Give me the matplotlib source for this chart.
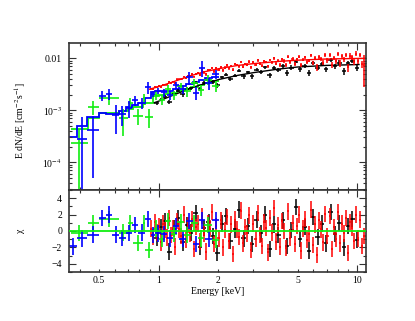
# -*- coding: utf-8 -*-
import numpy as np
import matplotlib
matplotlib.use("Agg")
import matplotlib.pyplot as plt
from matplotlib.ticker import FixedLocator, FixedFormatter, MultipleLocator, LogLocator, NullFormatter

# ==================== data ====================
# flux values in units of 1e-3 cm^-2 s^-1

# black data set (1 - 10 keV)
black_edges = [0.95, 1.0, 1.050, 1.104, 1.162, 1.222, 1.285, 1.352, 1.422, 1.495, 1.573,
               1.654, 1.740, 1.830, 1.925, 2.025, 2.130, 2.240, 2.356, 2.478, 2.607,
               2.742, 2.884, 3.033, 3.190, 3.356, 3.530, 3.712, 3.905, 4.107, 4.320,
               4.544, 4.779, 5.027, 5.287, 5.561, 5.850, 6.153, 6.471, 6.807, 7.160,
               7.531, 7.921, 8.331, 8.763, 9.217, 9.694, 10.20]
black_flux = [1.36, 1.61, 1.84, 1.46, 2.03, 2.39, 2.02, 2.61, 2.64, 3.38,
              2.59, 3.35, 3.75, 3.47, 3.02, 4.32, 4.83, 3.98, 4.65, 5.74,
              4.52, 5.35, 4.49, 6.08, 5.40, 6.73, 4.69, 6.43, 5.92, 7.04,
              5.25, 6.62, 8.64, 6.12, 7.25, 5.32, 8.25, 6.60, 7.79, 6.16,
              9.31, 7.00, 8.29, 5.66, 8.04, 8.91, 6.60]
black_err = [0.116, 0.124, 0.134, 0.146, 0.158, 0.17, 0.182, 0.198, 0.214, 0.23,
             0.244, 0.26, 0.276, 0.292, 0.308, 0.322, 0.338, 0.352, 0.366, 0.38,
             0.443, 0.457, 0.473, 0.486, 0.50, 0.513, 0.527, 0.54, 0.558, 0.567,
             0.64, 0.655, 0.67, 0.68, 0.69, 0.70, 0.705, 0.71, 0.715, 0.725,
             0.876, 0.882, 0.888, 0.894, 0.90, 0.906, 0.912]
black_chi = [-0.8, 0.5, 1.2, -2.5, 0.3, 1.6, -1.4, 0.7, -0.2, 2.2,
             -1.9, 0.4, 1.1, -0.6, -2.7, 0.9, 1.8, -1.2, 0.2, 2.6,
             -0.9, 0.6, -1.6, 1.4, -0.3, 2.0, -2.2, 0.8, -0.5, 1.3,
             -1.8, 0.1, 2.9, -1.0, 0.5, -2.4, 1.7, -0.7, 0.9, -1.5,
             2.3, -0.4, 1.0, -2.0, 0.6, 1.5, -1.1]
black_model_e = [0.95, 1.0, 1.2, 1.5, 2.0, 2.5, 3.0, 4.0, 5.0, 7.0, 10.2]
black_model_f = [1.40, 1.50, 2.0, 2.8, 3.9, 4.7, 5.3, 6.2, 6.8, 7.3, 7.6]

# red data set (0.9 - 11 keV)
red_edges = [0.900, 0.9217, 0.9440, 0.9667, 0.9901, 1.0140, 1.0384, 1.0635, 1.0891, 1.1154,
             1.1423, 1.1699, 1.1981, 1.2270, 1.2566, 1.2869, 1.3180, 1.3498, 1.3823, 1.4157,
             1.4498, 1.4848, 1.5206, 1.5573, 1.5949, 1.6333, 1.6727, 1.7131, 1.7544, 1.7968,
             1.8401, 1.8845, 1.9300, 1.9765, 2.0242, 2.0731, 2.1231, 2.1743, 2.2267, 2.2805,
             2.3355, 2.3918, 2.4495, 2.5086, 2.5691, 2.6311, 2.6946, 2.7596, 2.8262, 2.8944,
             2.9642, 3.0357, 3.1089, 3.1839, 3.2608, 3.3394, 3.4200, 3.5025, 3.5870, 3.6735,
             3.7622, 3.8529, 3.9459, 4.0411, 4.1386, 4.2384, 4.3407, 4.4454, 4.5526, 4.6625,
             4.7750, 4.8902, 5.0082, 5.1290, 5.2527, 5.3794, 5.5092, 5.6421, 5.7782, 5.9176,
             6.0604, 6.2066, 6.3564, 6.5097, 6.6668, 6.8276, 6.9924, 7.1611, 7.3338, 7.5108,
             7.6920, 7.8775, 8.0676, 8.2623, 8.4616, 8.6657, 8.8748, 9.0889, 9.3082, 9.5328,
             9.7628, 9.9983, 10.240, 10.487, 10.740, 10.999]
red_flux = [2.61, 2.59, 2.81, 2.76, 2.92, 2.80, 3.13, 3.13, 3.12, 3.50,
            3.36, 3.58, 3.40, 3.93, 3.93, 3.94, 4.44, 4.13, 4.54, 4.52,
            4.95, 4.46, 5.08, 5.32, 4.88, 5.83, 5.37, 4.90, 6.01, 5.93,
            6.65, 5.59, 6.38, 6.02, 6.82, 5.85, 6.64, 7.29, 6.42, 7.21,
            6.05, 7.65, 7.33, 7.04, 8.55, 6.83, 7.82, 7.53, 8.62, 6.74,
            8.33, 7.48, 9.08, 7.84, 7.26, 8.74, 8.46, 7.02, 9.20, 8.35,
            9.95, 7.93, 9.02, 7.39, 9.60, 8.81, 7.37, 10.63, 8.40, 9.75,
            7.92, 9.58, 10.67, 7.46, 9.48, 10.40, 8.51, 9.06, 11.34, 8.14,
            10.22, 6.74, 10.76, 9.75, 8.26, 11.65, 9.13, 11.47, 7.59, 10.24,
            8.78, 12.03, 8.04, 10.88, 9.49, 11.75, 6.68, 11.21, 10.40, 8.51,
            12.35, 8.90, 11.68, 7.84, 7.30]
red_err = [0.090, 0.093, 0.095, 0.097, 0.100, 0.103, 0.106, 0.109, 0.112, 0.116,
           0.120, 0.124, 0.127, 0.132, 0.137, 0.141, 0.145, 0.150, 0.155, 0.160,
           0.165, 0.169, 0.248, 0.255, 0.261, 0.268, 0.274, 0.280, 0.286, 0.292,
           0.298, 0.304, 0.310, 0.315, 0.320, 0.325, 0.331, 0.336, 0.342, 0.347,
           0.352, 0.358, 0.363, 0.441, 0.446, 0.451, 0.455, 0.460, 0.464, 0.469,
           0.474, 0.478, 0.481, 0.485, 0.488, 0.492, 0.496, 0.499, 0.503, 0.507,
           0.511, 0.516, 0.520, 0.697, 0.701, 0.705, 0.709, 0.714, 0.718, 0.722,
           0.726, 0.731, 0.736, 0.738, 0.741, 0.743, 0.746, 0.749, 0.751, 0.754,
           0.946, 0.949, 0.952, 0.956, 0.960, 0.963, 0.971, 0.972, 0.973, 0.975,
           0.976, 0.978, 1.176, 1.178, 1.181, 1.183, 1.186, 1.188, 1.190, 1.193,
           1.195, 1.198, 1.20, 1.20, 4.5]
red_chi = [0.3, -0.7, 1.1, -0.2, 0.6, -1.4, 0.9, 0.1, -0.8, 1.6,
           -0.5, 0.4, -1.9, 1.2, 0.2, -0.6, 2.0, -1.1, 0.7, -0.3,
           1.5, -2.2, 0.5, 0.9, -1.3, 1.8, -0.4, -2.5, 1.0, 0.3,
           2.3, -1.6, 0.6, -0.9, 1.3, -2.0, 0.1, 1.7, -1.2, 0.8,
           -2.8, 1.4, 0.2, -0.7, 2.5, -1.5, 0.5, -0.3, 1.9, -2.3,
           0.9, -1.0, 2.2, -0.5, -1.8, 1.1, 0.4, -2.6, 1.6, -0.2,
           2.8, -1.3, 0.7, -1.9, 1.2, 0.0, -2.1, 2.4, -0.8, 1.0,
           -1.6, 0.6, 2.0, -2.4, 0.3, 1.5, -1.1, -0.4, 2.6, -1.7,
           0.8, -2.9, 1.3, 0.2, -1.4, 2.1, -0.6, 1.8, -2.2, 0.5,
           -1.0, 2.3, -1.5, 0.9, -0.3, 1.6, -2.7, 1.1, 0.4, -1.2,
           2.0, -0.9, 1.4, -1.8, -0.6]
red_model_e = [0.9, 1.0, 1.2, 1.44, 1.7, 2.0, 2.5, 3.0, 4.0, 5.0, 7.0, 11.0]
red_model_f = [2.55, 2.85, 3.6, 4.6, 5.5, 6.3, 7.3, 7.9, 8.7, 9.2, 9.7, 10.0]

# green data set (0.36 - 2 keV)
green_edges = [0.36, 0.44, 0.50, 0.63, 0.70, 0.74, 0.83, 0.85, 0.94, 1.00,
               1.07, 1.15, 1.24, 1.34, 1.45, 1.57, 1.70, 1.85, 2.02]
green_flux = [0.23, 1.17, 1.7, 0.70, 1.4, 0.79, 1.7, 0.75, 2.0, 1.6,
              2.6, 2.0, 2.9, 2.3, 3.4, 2.5, 3.9, 2.9]
green_err = [0.20, 0.35, 0.45, 0.38, 0.35, 0.28, 0.40, 0.30, 0.40, 0.35,
             0.50, 0.40, 0.50, 0.50, 0.60, 0.60, 0.80, 0.70]
green_chi = [-0.24, 0.97, 1.45, -0.2, 1.0, -1.45, 1.0, -2.3, 0.3, -1.0,
             1.2, -0.4, 1.1, -0.5, 1.0, -0.9, 0.7, -1.1]
green_model = [0.44, 0.70, 0.88, 0.95, 1.05, 1.15, 1.3, 1.4, 1.9, 2.0,
               2.05, 2.15, 2.35, 2.55, 2.8, 3.05, 3.35, 3.7]

# blue data set (0.35 - 2 keV)
blue_edges = [0.353, 0.388, 0.435, 0.500, 0.543, 0.582, 0.631, 0.684, 0.734, 0.787,
              0.853, 0.915, 0.96, 1.03, 1.10, 1.18, 1.27, 1.37, 1.48, 1.60,
              1.72, 1.86, 2.02]
blue_flux = [0.01, 0.28, 0.42, 1.9, 2.1, 0.80, 0.85, 1.1, 1.55, 1.4,
             2.8, 2.1, 2.4, 2.2, 2.0, 3.0, 2.6, 4.3, 2.15, 6.5,
             3.3, 5.0]
blue_err = [0.015, 0.47, 0.37, 0.40, 0.50, 0.45, 0.35, 0.40, 0.35, 0.35,
            0.70, 0.30, 0.30, 0.40, 0.40, 0.50, 0.50, 1.2, 0.60, 2.2,
            0.80, 1.0]
blue_chi = [-1.87, -0.9, -0.45, 1.6, 2.0, -0.45, -0.85, -0.24, 0.76, -0.2,
            1.5, -0.5, -0.3, -0.4, -0.9, 0.6, -1.0, 1.2, -1.6, 1.3,
            -1.0, 1.3]
blue_model = [0.31, 0.50, 0.75, 0.90, 0.86, 0.86, 0.98, 1.15, 1.25, 1.4,
              1.7, 2.25, 2.3, 2.3, 2.35, 2.6, 2.9, 3.2, 3.5, 3.8,
              4.1, 4.4]

flux_unit = 1e-3

# axis ticks
x_major = [1, 10]
x_major_labels = ['1', '10']
x_minor = [0.4, 0.5, 0.6, 0.7, 0.8, 0.9, 2, 3, 4, 5, 6, 7, 8, 9]
x_minor_labels = {0.5: '0.5', 2: '2', 5: '5'}
y_major = [1e-4, 1e-3, 1e-2]
y_major_labels = [r'10$^{-4}$', r'10$^{-3}$', '0.01']

# ==================== style ====================
plt.rcParams.update({
    "font.family": "serif",
    "font.serif": ["Liberation Serif", "DejaVu Serif"],
    "mathtext.fontset": "stix",
    "font.size": 7,
    "axes.linewidth": 1.2,
    "axes.edgecolor": "#333333",
    "xtick.direction": "in",
    "ytick.direction": "in",
    "xtick.top": True,
    "ytick.right": True,
    "xtick.major.size": 5,
    "ytick.major.size": 5,
    "xtick.minor.size": 2.5,
    "ytick.minor.size": 2.5,
    "xtick.major.width": 0.8,
    "ytick.major.width": 0.8,
    "xtick.minor.width": 0.8,
    "ytick.minor.width": 0.8,
    "xtick.color": "#333333",
    "ytick.color": "#333333",
    "xtick.labelcolor": "black",
    "ytick.labelcolor": "black",
})

W, H = 415, 321
fig = plt.figure(figsize=(W / 100, H / 100), dpi=100)
left, right = 69, 366
ax1 = fig.add_axes([left / W, 1 - 190 / H, (right - left) / W, (190 - 43) / H])
ax2 = fig.add_axes([left / W, 1 - 272 / H, (right - left) / W, (272 - 190) / H], sharex=ax1)

GREEN = '#11ee11'


def bins(edges):
    e = np.array(edges)
    c = np.sqrt(e[:-1] * e[1:])
    return c, c - e[:-1], e[1:] - c


def draw_set(edges, flux, err, chi, color, lw=1.1):
    c, xl, xh = bins(edges)
    f = np.array(flux) * flux_unit
    s = np.array(err) * flux_unit
    ax1.errorbar(c, f, xerr=[xl, xh], yerr=s, fmt='none', ecolor=color,
                 elinewidth=lw, capsize=0)
    ax2.errorbar(c, chi, xerr=[xl, xh], yerr=1.0, fmt='none', ecolor=color,
                 elinewidth=lw, capsize=0)


# black and red first, then green and blue on top
draw_set(black_edges, black_flux, black_err, black_chi, 'black')
ax1.plot(black_model_e, np.array(black_model_f) * flux_unit, color='black', lw=1.0)
draw_set(red_edges, red_flux, red_err, red_chi, '#ff0000')
ax1.plot(red_model_e, np.array(red_model_f) * flux_unit, color='#ff0000', lw=1.0)
draw_set(green_edges, green_flux, green_err, green_chi, GREEN, lw=1.2)
ax1.stairs(np.array(green_model) * flux_unit, green_edges, baseline=None,
           color=GREEN, lw=1.3)
draw_set(blue_edges, blue_flux, blue_err, blue_chi, '#0000ff', lw=1.2)
ax1.stairs(np.array(blue_model) * flux_unit, blue_edges, baseline=None,
           color='#0000ff', lw=1.3)

ax2.axhline(0, color=GREEN, lw=1.3, zorder=5)

# ==================== axes ====================
ax1.set_xscale('log')
ax1.set_yscale('log')
ax1.set_xlim(0.3534, 11.06)
ax1.set_ylim(2.93e-5, 1.97e-2)
ax2.set_ylim(-5, 5)

ax2.xaxis.set_major_locator(FixedLocator(x_major))
ax2.xaxis.set_major_formatter(FixedFormatter(x_major_labels))
ax2.xaxis.set_minor_locator(FixedLocator(x_minor))
ax2.xaxis.set_minor_formatter(plt.FuncFormatter(
    lambda v, p: x_minor_labels.get(round(v, 2), '')))

ax1.yaxis.set_major_locator(FixedLocator(y_major))
ax1.yaxis.set_major_formatter(FixedFormatter(y_major_labels))
ax1.yaxis.set_minor_locator(LogLocator(base=10, subs=np.arange(2, 10)))
ax1.yaxis.set_minor_formatter(NullFormatter())

ax2.yaxis.set_major_locator(MultipleLocator(2))
ax2.yaxis.set_minor_locator(MultipleLocator(1))

for ax in (ax1, ax2):
    ax.tick_params(which='both', labelsize=7)
    ax.tick_params(axis='y', which='both', pad=5)
ax1.tick_params(axis='x', which='both', labelbottom=False)
ax2.tick_params(axis='x', which='both', pad=3)

fig.text(20.7 / W, 1 - 120 / H, r'E dN/dE [cm$^{-2}$s$^{-1}$]', rotation=90,
         ha='center', va='center', fontsize=7)
fig.text(20.7 / W, 1 - 231 / H, 'χ', rotation=90, ha='center', va='center', fontsize=7)
fig.text((left + right) / 2 / W, 1 - 292 / H, 'Energy [keV]', ha='center', va='center',
         fontsize=7)

fig.savefig('out.png', dpi=100)
